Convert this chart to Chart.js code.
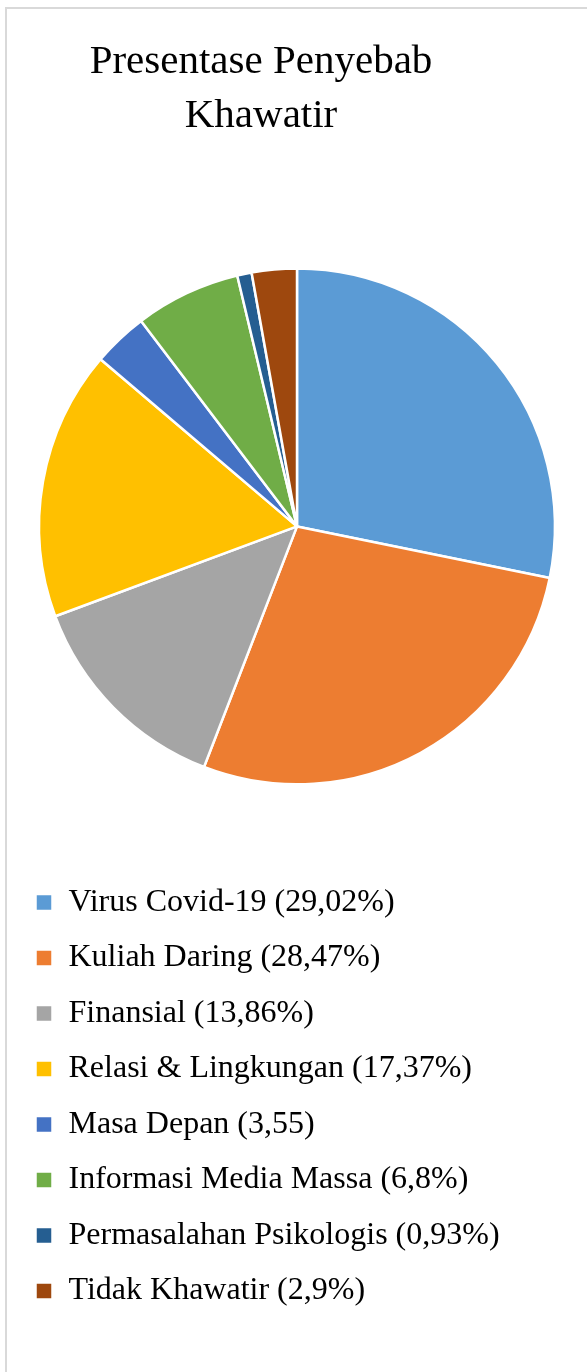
<!DOCTYPE html>
<html>
<head>
<meta charset="utf-8">
<script src="https://cdn.jsdelivr.net/npm/chart.js@4"></script>
<style>
  html, body { margin: 0; padding: 0; background: #fff; }
  .frame {
    position: absolute; left: 5px; top: 7px; width: 600px; height: 1400px;
    border-left: 2px solid #d9d9d9; border-top: 2px solid #d9d9d9;
  }
  .wrap { position: absolute; left: 0; top: 0; width: 587px; height: 1372px; }
</style>
</head>
<body>
<div class="frame"></div>
<div class="wrap"><canvas id="pie"></canvas></div>
<script>
// Data
const categories = [
  'Virus Covid-19 (29,02%)',
  'Kuliah Daring (28,47%)',
  'Finansial (13,86%)',
  'Relasi & Lingkungan (17,37%)',
  'Masa Depan (3,55)',
  'Informasi Media Massa (6,8%)',
  'Permasalahan Psikologis (0,93%)',
  'Tidak Khawatir (2,9%)'
];
const values = [29.02, 28.47, 13.86, 17.37, 3.55, 6.8, 0.93, 2.9];
const colors = ['#5B9BD5', '#ED7D31', '#A5A5A5', '#FFC000', '#4472C4', '#70AD47', '#255E91', '#9E480E'];
const titleLines = ['Presentase Penyebab', 'Khawatir'];

// the title in the reference sits left of the pie centre
const shiftTitle = {
  id: 'shiftTitle',
  afterLayout(chart) {
    const t = chart.titleBlock;
    if (t) { t.left -= 36; t.right -= 36; }
  }
};

new Chart(document.getElementById('pie'), {
  type: 'pie',
  data: {
    labels: categories,
    datasets: [{
      data: values,
      backgroundColor: colors,
      borderColor: '#ffffff',
      borderWidth: 2.5,
    }],
  },
  plugins: [shiftTitle],
  options: {
    responsive: true,
    maintainAspectRatio: false,
    animation: false,
    layout: { padding: { left: 12, right: 5, top: 10, bottom: 55 } },
    plugins: {
      title: {
        display: true,
        text: titleLines,
        color: '#000',
        font: { family: 'Liberation Serif', size: 41, weight: 'normal', lineHeight: 1.32 },
        padding: { top: 25, bottom: 124 },
      },
      legend: {
        position: 'bottom',
        align: 'start',
        title: { display: true, text: '', font: { size: 12 }, padding: { top: 63, bottom: 0 } },
        labels: {
          color: '#000',
          boxWidth: 17,
          boxHeight: 17,
          padding: 23.5,
          font: { family: 'Liberation Serif', size: 32 },
        },
      },
      tooltip: { enabled: false },
    },
  },
});
</script>
</body>
</html>
